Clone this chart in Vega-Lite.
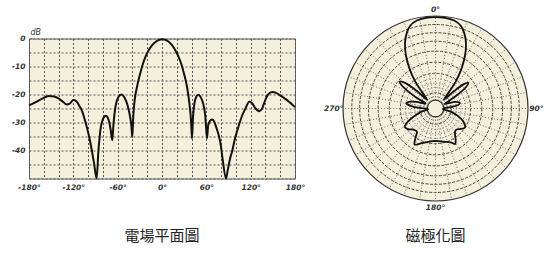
{
  "$schema": "https://vega.github.io/schema/vega-lite/v6.json",
  "padding": {"left": 10, "top": 5, "right": 0, "bottom": 0},
  "background": "white",
  "bounds": "flush",
  "center": true,
  "spacing": 48,
  "config": {
    "font": "DejaVu Sans",
    "title": {"font": "Noto Sans CJK TC", "fontSize": 15, "fontWeight": "normal", "color": "#222"}
  },
  "datasets": {
    "field": [
      {"angle": -180, "db": -23.9}, {"angle": -170, "db": -22.6}, {"angle": -160, "db": -21.2}, {"angle": -153, "db": -20.5},
      {"angle": -146, "db": -20.7}, {"angle": -140, "db": -21.4}, {"angle": -134, "db": -22.6}, {"angle": -129, "db": -23.6},
      {"angle": -125, "db": -23.3}, {"angle": -120, "db": -22}, {"angle": -116, "db": -22.4}, {"angle": -112, "db": -24},
      {"angle": -108, "db": -26}, {"angle": -104, "db": -29.5}, {"angle": -100, "db": -33.5}, {"angle": -96, "db": -38.5},
      {"angle": -92, "db": -44.5}, {"angle": -88.5, "db": -50}, {"angle": -86, "db": -40}, {"angle": -83, "db": -32},
      {"angle": -80, "db": -28.8}, {"angle": -76, "db": -27.6}, {"angle": -72, "db": -29.3}, {"angle": -69.5, "db": -32.5},
      {"angle": -67.3, "db": -36.3}, {"angle": -65.5, "db": -30}, {"angle": -63, "db": -24.4}, {"angle": -59, "db": -20.9},
      {"angle": -55, "db": -20}, {"angle": -51, "db": -21}, {"angle": -47, "db": -23.5}, {"angle": -43.5, "db": -27.5},
      {"angle": -41.5, "db": -31}, {"angle": -40.2, "db": -35.2}, {"angle": -38.8, "db": -27.5}, {"angle": -37, "db": -22},
      {"angle": -34, "db": -17.5}, {"angle": -30, "db": -13}, {"angle": -26, "db": -9.2}, {"angle": -22, "db": -6.3},
      {"angle": -18, "db": -4.2}, {"angle": -13, "db": -2.3}, {"angle": -7, "db": -0.9}, {"angle": 0, "db": -0.3},
      {"angle": 7, "db": -0.8}, {"angle": 13, "db": -2.2}, {"angle": 18, "db": -4.2}, {"angle": 22, "db": -6.3},
      {"angle": 26, "db": -9}, {"angle": 30, "db": -12.8}, {"angle": 34, "db": -17.5}, {"angle": 37, "db": -23},
      {"angle": 39.2, "db": -29}, {"angle": 40.6, "db": -35.7}, {"angle": 42, "db": -28}, {"angle": 44, "db": -23},
      {"angle": 46.5, "db": -20.8}, {"angle": 49, "db": -20.1}, {"angle": 52, "db": -20.8}, {"angle": 55.5, "db": -23},
      {"angle": 58.5, "db": -27.5}, {"angle": 60.9, "db": -35.7}, {"angle": 62.5, "db": -31}, {"angle": 65, "db": -29.4},
      {"angle": 67.7, "db": -28.9}, {"angle": 70.5, "db": -29.6}, {"angle": 73.5, "db": -31.8}, {"angle": 76.7, "db": -34.5},
      {"angle": 79.5, "db": -38}, {"angle": 82, "db": -43}, {"angle": 86.6, "db": -50}, {"angle": 89, "db": -47},
      {"angle": 92, "db": -43}, {"angle": 94.7, "db": -40.5}, {"angle": 99, "db": -35.5}, {"angle": 104, "db": -31},
      {"angle": 108.5, "db": -27.5}, {"angle": 113, "db": -25}, {"angle": 118, "db": -22.6}, {"angle": 122, "db": -23.1},
      {"angle": 126, "db": -24.8}, {"angle": 131.5, "db": -26}, {"angle": 135.5, "db": -25}, {"angle": 140, "db": -21.8},
      {"angle": 144, "db": -19.9}, {"angle": 149, "db": -19.1}, {"angle": 155, "db": -19.5}, {"angle": 162, "db": -20.7},
      {"angle": 170, "db": -22.2}, {"angle": 180, "db": -24.5}
    ],
    "polar": [
      {"a": -180, "r": 0.35}, {"a": -172, "r": 0.36}, {"a": -164, "r": 0.38}, {"a": -157, "r": 0.41}, {"a": -150, "r": 0.45},
      {"a": -146, "r": 0.39}, {"a": -141, "r": 0.32}, {"a": -134, "r": 0.33}, {"a": -127, "r": 0.37}, {"a": -121, "r": 0.39},
      {"a": -116, "r": 0.34}, {"a": -110, "r": 0.25}, {"a": -103, "r": 0.16}, {"a": -96, "r": 0.08}, {"a": -92, "r": 0.09},
      {"a": -88, "r": 0.17}, {"a": -84, "r": 0.27}, {"a": -80, "r": 0.32}, {"a": -76, "r": 0.3}, {"a": -71, "r": 0.22},
      {"a": -66, "r": 0.13}, {"a": -63, "r": 0.12}, {"a": -60, "r": 0.25}, {"a": -56, "r": 0.43}, {"a": -53, "r": 0.485},
      {"a": -50, "r": 0.43}, {"a": -47, "r": 0.28}, {"a": -44, "r": 0.13}, {"a": -41, "r": 0.17}, {"a": -37, "r": 0.36},
      {"a": -33, "r": 0.52}, {"a": -29, "r": 0.66}, {"a": -25, "r": 0.78}, {"a": -21, "r": 0.87}, {"a": -17, "r": 0.935},
      {"a": -12, "r": 0.972}, {"a": -6, "r": 0.985}, {"a": 0, "r": 0.988}, {"a": 6, "r": 0.985}, {"a": 12, "r": 0.972},
      {"a": 17, "r": 0.935}, {"a": 21, "r": 0.87}, {"a": 25, "r": 0.78}, {"a": 29, "r": 0.66}, {"a": 33, "r": 0.52},
      {"a": 37, "r": 0.36}, {"a": 41, "r": 0.17}, {"a": 44, "r": 0.13}, {"a": 47, "r": 0.28}, {"a": 49.5, "r": 0.41},
      {"a": 52, "r": 0.45}, {"a": 55, "r": 0.4}, {"a": 59, "r": 0.24}, {"a": 63, "r": 0.11}, {"a": 67, "r": 0.14},
      {"a": 72, "r": 0.23}, {"a": 77, "r": 0.27}, {"a": 81, "r": 0.25}, {"a": 85, "r": 0.17}, {"a": 89, "r": 0.09},
      {"a": 94, "r": 0.08}, {"a": 101, "r": 0.16}, {"a": 108, "r": 0.25}, {"a": 116, "r": 0.34}, {"a": 123, "r": 0.38},
      {"a": 129, "r": 0.35}, {"a": 137, "r": 0.32}, {"a": 143, "r": 0.35}, {"a": 147, "r": 0.4}, {"a": 151, "r": 0.44},
      {"a": 156, "r": 0.4}, {"a": 164, "r": 0.375}, {"a": 172, "r": 0.36}, {"a": 180, "r": 0.35}
    ],
    "spokes": [
      {"a": 0}, {"a": 10}, {"a": 20}, {"a": 30}, {"a": 40}, {"a": 50}, {"a": 60}, {"a": 70}, {"a": 80},
      {"a": 90}, {"a": 100}, {"a": 110}, {"a": 120}, {"a": 130}, {"a": 140}, {"a": 150}, {"a": 160}, {"a": 170},
      {"a": 180}, {"a": 190}, {"a": 200}, {"a": 210}, {"a": 220}, {"a": 230}, {"a": 240}, {"a": 250}, {"a": 260},
      {"a": 270}, {"a": 280}, {"a": 290}, {"a": 300}, {"a": 310}, {"a": 320}, {"a": 330}, {"a": 340}, {"a": 350}
    ],
    "majorRings": [{"r": 0.17}, {"r": 0.38}, {"r": 0.5}, {"r": 0.62}, {"r": 0.725}, {"r": 0.82}, {"r": 0.905}],
    "minorRings": [{"r": 0.125}, {"r": 0.225}, {"r": 0.275}, {"r": 0.325}],
    "polarLabels": [
      {"a": 0, "r": 1.065, "t": "0°"}, {"a": 90, "r": 1.09, "t": "90°"},
      {"a": 180, "r": 1.075, "t": "180°"}, {"a": 270, "r": 1.1, "t": "270°"}
    ]
  },
  "hconcat": [
    {
      "width": 266,
      "height": 140,
      "view": {"fill": "#F4F0DC", "stroke": "#666", "strokeWidth": 1},
      "title": {"text": "電場平面圖", "orient": "bottom", "offset": 38},
      "data": {"name": "field"},
      "mark": {"type": "line", "color": "#111", "strokeWidth": 2, "interpolate": "monotone"},
      "encoding": {
        "x": {
          "field": "angle", "type": "quantitative",
          "scale": {"domain": [-180, 180], "nice": false, "zero": false},
          "axis": {
            "values": [-180, -160, -140, -120, -100, -80, -60, -40, -20, 0, 20, 40, 60, 80, 100, 120, 140, 160, 180],
            "labelExpr": "datum.value % 60 == 0 ? datum.value + '°' : ''",
            "title": null, "grid": true, "gridDash": [2, 2], "gridColor": "#555", "gridOpacity": 1,
            "ticks": false, "domain": false, "labelFlush": false, "labelOverlap": false,
            "labelFontStyle": "italic", "labelFontWeight": "bold", "labelFontSize": 7.5, "labelColor": "#333", "labelPadding": 5
          }
        },
        "y": {
          "field": "db", "type": "quantitative",
          "scale": {"domain": [-50, 0], "nice": false, "zero": false},
          "axis": {
            "values": [0, -5, -10, -15, -20, -25, -30, -35, -40, -45, -50],
            "labelExpr": "datum.value % 10 == 0 && datum.value > -50 ? datum.value + '' : ''",
            "grid": true, "gridDash": [2, 2], "gridColor": "#555", "gridOpacity": 1,
            "ticks": false, "domain": false, "labelFlush": false, "labelOverlap": false,
            "labelFontStyle": "italic", "labelFontWeight": "bold", "labelFontSize": 7.5, "labelColor": "#333", "labelPadding": 4,
            "title": "dB", "titleAngle": 0, "titleX": 1, "titleY": -2, "titleAlign": "left", "titleBaseline": "bottom",
            "titleFontStyle": "italic", "titleFontSize": 8, "titleFontWeight": "normal", "titleColor": "#333"
          }
        }
      }
    },
    {
      "width": 185,
      "height": 185,
      "view": {"stroke": null},
      "title": {"text": "磁極化圖", "orient": "bottom", "offset": 18},
      "layer": [
        {
          "data": {"values": [{"r": 1}]},
          "mark": {"type": "point", "shape": "circle", "filled": true, "fill": "#F4F0DC", "opacity": 1, "strokeWidth": 0},
          "encoding": {
            "x": {"datum": 0, "type": "quantitative", "scale": {"domain": [-1, 1], "nice": false, "zero": false}, "axis": null},
            "y": {"datum": 0, "type": "quantitative", "scale": {"domain": [-1, 1], "nice": false, "zero": false}, "axis": null},
            "size": {"field": "r", "type": "quantitative", "legend": null, "scale": {"type": "pow", "exponent": 2, "domain": [0, 1], "range": [0, 34225], "zero": true}}
          }
        },
        {
          "data": {"name": "minorRings"},
          "mark": {"type": "point", "shape": "circle", "filled": false, "stroke": "#666", "strokeWidth": 1, "strokeDash": [1, 2], "opacity": 1},
          "encoding": {
            "x": {"datum": 0, "type": "quantitative"},
            "y": {"datum": 0, "type": "quantitative"},
            "size": {"field": "r", "type": "quantitative", "legend": null}
          }
        },
        {
          "data": {"name": "spokes"},
          "transform": [
            {"calculate": "0.09*sin(datum.a*PI/180)", "as": "x0"},
            {"calculate": "0.09*cos(datum.a*PI/180)", "as": "y0"},
            {"calculate": "sin(datum.a*PI/180)", "as": "x1"},
            {"calculate": "cos(datum.a*PI/180)", "as": "y1"}
          ],
          "mark": {"type": "rule", "stroke": "#666", "strokeWidth": 1, "strokeDash": [1, 2]},
          "encoding": {
            "x": {"field": "x0", "type": "quantitative"},
            "y": {"field": "y0", "type": "quantitative"},
            "x2": {"field": "x1"},
            "y2": {"field": "y1"}
          }
        },
        {
          "data": {"name": "majorRings"},
          "mark": {"type": "point", "shape": "circle", "filled": false, "stroke": "#444", "strokeWidth": 1, "strokeDash": [3, 1.5], "opacity": 1},
          "encoding": {
            "x": {"datum": 0, "type": "quantitative"},
            "y": {"datum": 0, "type": "quantitative"},
            "size": {"field": "r", "type": "quantitative", "legend": null}
          }
        },
        {
          "data": {"values": [{"r": 0.09}, {"r": 1}]},
          "mark": {"type": "point", "shape": "circle", "filled": false, "stroke": "#333", "strokeWidth": 1.2, "opacity": 1},
          "encoding": {
            "x": {"datum": 0, "type": "quantitative"},
            "y": {"datum": 0, "type": "quantitative"},
            "size": {"field": "r", "type": "quantitative", "legend": null}
          }
        },
        {
          "data": {"name": "polar"},
          "transform": [
            {"calculate": "datum.r*sin(datum.a*PI/180)", "as": "px"},
            {"calculate": "datum.r*cos(datum.a*PI/180)", "as": "py"}
          ],
          "mark": {"type": "line", "color": "#111", "strokeWidth": 1.8, "interpolate": "catmull-rom"},
          "encoding": {
            "x": {"field": "px", "type": "quantitative"},
            "y": {"field": "py", "type": "quantitative"},
            "order": {"field": "a", "type": "quantitative"}
          }
        },
        {
          "data": {"name": "polarLabels"},
          "transform": [
            {"calculate": "datum.r*sin(datum.a*PI/180)", "as": "px"},
            {"calculate": "datum.r*cos(datum.a*PI/180)", "as": "py"}
          ],
          "mark": {"type": "text", "fontSize": 7.5, "fontStyle": "italic", "fontWeight": "bold", "color": "#333", "baseline": "middle", "align": "center"},
          "encoding": {
            "x": {"field": "px", "type": "quantitative"},
            "y": {"field": "py", "type": "quantitative"},
            "text": {"field": "t"}
          }
        }
      ]
    }
  ]
}
